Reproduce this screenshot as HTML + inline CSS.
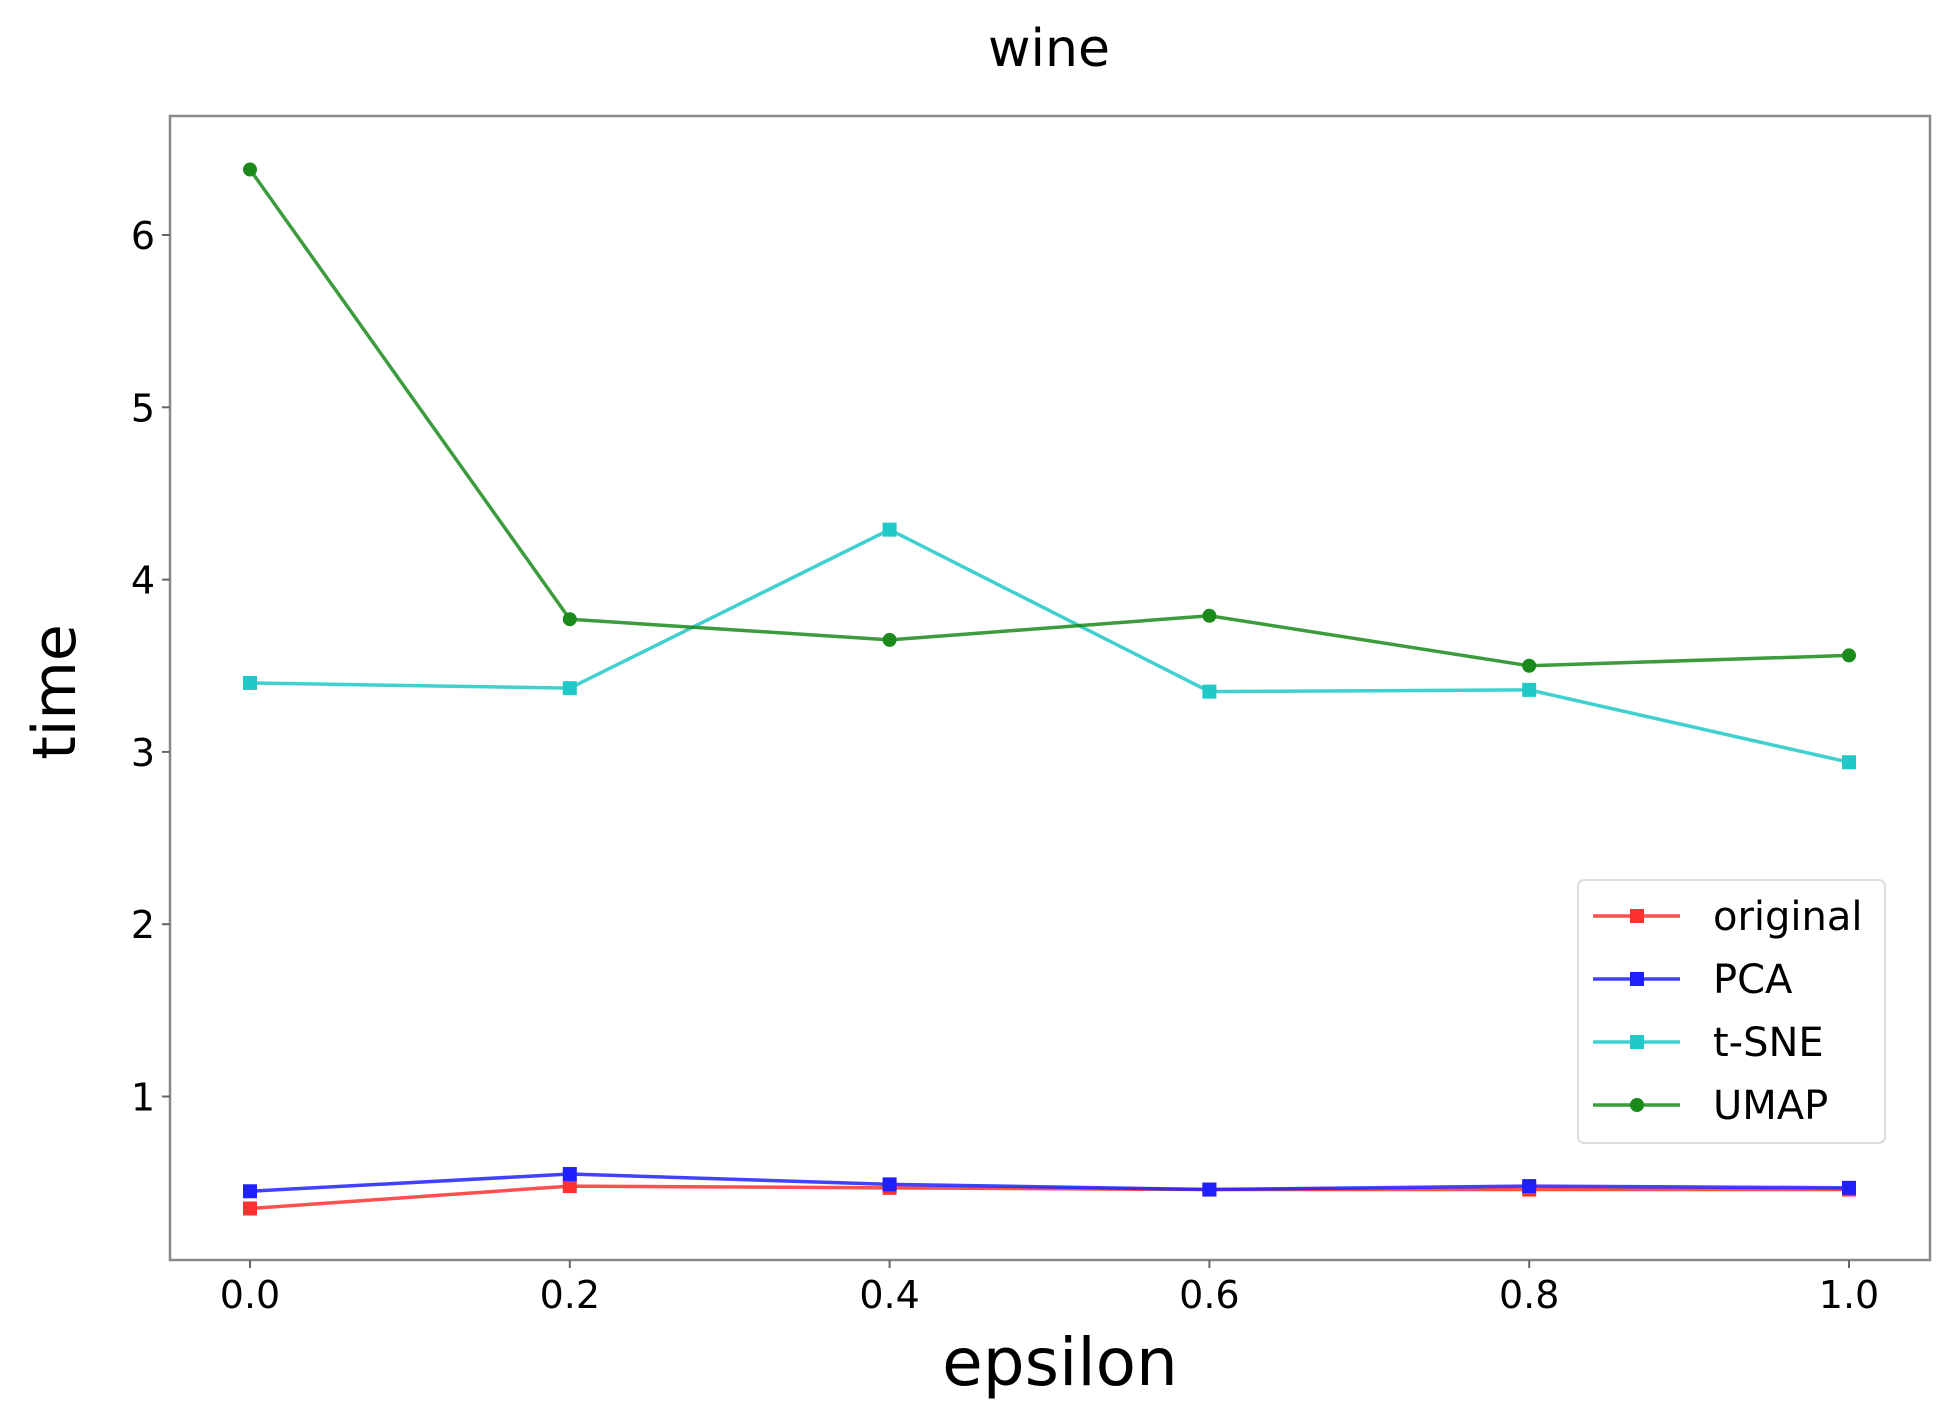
<!DOCTYPE html>
<html><head><meta charset="utf-8"><style>
html,body{margin:0;padding:0;background:#fff;}
svg{display:block;font-family:"DejaVu Sans","Liberation Sans",sans-serif;}
</style></head><body>
<svg id="chart" width="1951" height="1427" xmlns="http://www.w3.org/2000/svg">
<text x="1049" y="66" font-size="52" text-anchor="middle">wine</text>
<rect x="170" y="116" width="1760" height="1144" fill="none" stroke="#888" stroke-width="2.5"/>
<g id="axes"></g>
<g id="series"></g>
<text x="1060" y="1385" font-size="66" text-anchor="middle">epsilon</text>
<text transform="translate(75,692) rotate(-90)" font-size="60" text-anchor="middle">time</text>
<g>
<rect x="1578" y="880" width="307" height="263" rx="6" fill="#fff" stroke="#ddd" stroke-width="2"/>
<g id="legend"></g>
</g>
</svg>
<script>
const categories=[0.0,0.2,0.4,0.6,0.8,1.0];
const xTickLabels=["0.0","0.2","0.4","0.6","0.8","1.0"];
const yTicks=[1,2,3,4,5,6];
const seriesNames=["original","PCA","t-SNE","UMAP"];
const originalValues=[0.35,0.48,0.47,0.46,0.46,0.46];
const pcaValues=[0.45,0.55,0.49,0.46,0.48,0.47];
const tsneValues=[3.40,3.37,4.29,3.35,3.36,2.94];
const umapValues=[6.38,3.77,3.65,3.79,3.50,3.56];
const ns="http://www.w3.org/2000/svg";
function xs(v){return 250+(1849-250)*v;}
function ys(v){return 1268.8-172.3*v;}
function mk(t,a,p){const e=document.createElementNS(ns,t);for(const k in a)e.setAttribute(k,a[k]);p.appendChild(e);return e;}
const ax=document.getElementById('axes');
categories.forEach((c,i)=>{
 const l=mk('line',{x1:xs(c),x2:xs(c),y1:1260,y2:1268,stroke:'#666','stroke-width':2},ax);
 
 
 const t=mk('text',{x:xs(c),y:1308,'font-size':38,'text-anchor':'middle'},ax);
 t.textContent=xTickLabels[i];
 
 
});
yTicks.forEach(v=>{
 const l=mk('line',{x1:162,x2:170,y1:ys(v),y2:ys(v),stroke:'#666','stroke-width':2},ax);
 
 
 const t=mk('text',{x:155,y:ys(v)+14,'font-size':38,'text-anchor':'end'},ax);
 t.textContent=String(v);
 
 
});
const sg=document.getElementById('series');
const defs=[[originalValues,'#ff3030','square'],[pcaValues,'#2020ff','square'],[tsneValues,'#20c8c8','square'],[umapValues,'#1a8a1a','circle']];
defs.forEach((d,si)=>{
 const g=mk('g',{},sg);
 
 
 const pts=d[0].map((v,i)=>xs(categories[i])+','+ys(v)).join(' ');
 const pl=mk('polyline',{points:pts,fill:'none',stroke:d[1],'stroke-width':3.5,'stroke-opacity':0.85},g);
 
 
 d[0].forEach((v,i)=>{
  let m;
  if(d[2]==='square') m=mk('rect',{x:xs(categories[i])-7,y:ys(v)-7,width:14,height:14,fill:d[1]},g);
  else m=mk('circle',{cx:xs(categories[i]),cy:ys(v),r:7,fill:d[1]},g);
  
  
 });
});
const lg=document.getElementById('legend');
defs.forEach((d,i)=>{
 const y=916+63*i;
 const g=mk('g',{},lg);
 
 
 mk('line',{x1:1593,x2:1680,y1:y,y2:y,stroke:d[1],'stroke-width':3.5,'stroke-opacity':0.85},g);
 if(d[2]==='square') mk('rect',{x:1630,y:y-7,width:14,height:14,fill:d[1]},g);
 else mk('circle',{cx:1637,cy:y,r:7,fill:d[1]},g);
 const t=mk('text',{x:1713,y:y+14,'font-size':40},g);
 t.textContent=seriesNames[i];
});
</script>
</body></html>
